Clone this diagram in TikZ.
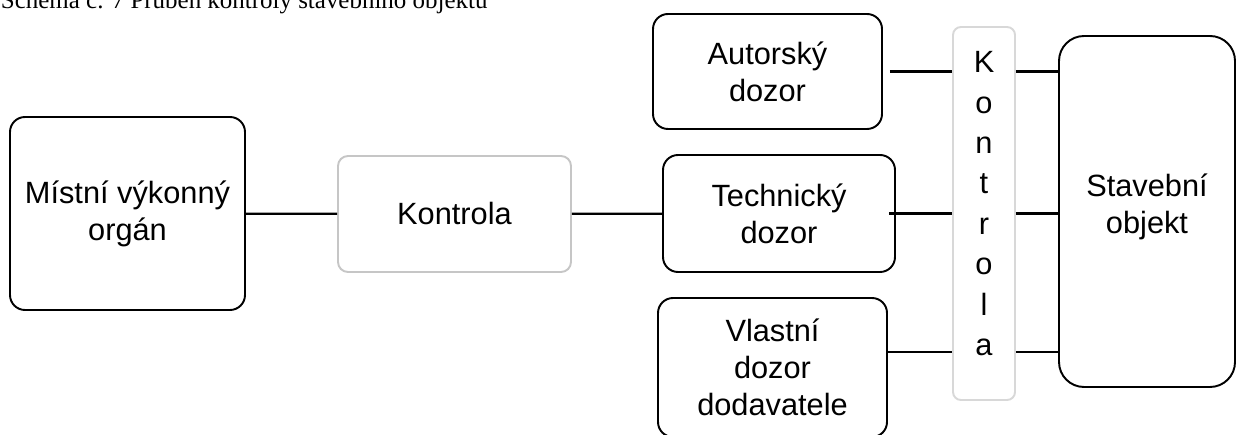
\documentclass[tikz,border=0pt]{standalone}
\usepackage{fontspec}
\setmainfont{Liberation Sans}
\newfontfamily\titlefont{Liberation Serif}
\definecolor{framegray}{RGB}{198,198,198}
\definecolor{palegray}{RGB}{216,216,216}
\tikzset{%
    every node/.style={draw, rounded corners=3mm, line width=1.1pt, align=center,
    	inner sep=0pt, font=\fontsize{17.5pt}{21pt}\selectfont},
    every edge/.style={draw, line width=1.3pt}
}

\begin{document}
\begin{tikzpicture}[line width=1.1pt]
  \useasboundingbox (0cm, 0cm) rectangle (24.72cm, -8.7cm);

  \node (title) [draw=none, anchor=base west,
    font=\titlefont\fontsize{14.2pt}{17pt}\selectfont] at (0cm, -0.17cm)
    {Schéma č. 7 Průběh kontroly stavebního objektu};

  \node (mistni) [minimum width=4.7cm, minimum height=3.86cm] at (2.55cm, -4.27cm) {Místní výkonný\\orgán};
  \node (kontrola) [draw=framegray, rounded corners=2mm, minimum width=4.66cm, minimum height=2.32cm] at (9.09cm, -4.28cm) {Kontrola};
  \node (autor) [minimum width=4.58cm, minimum height=2.3cm] at (15.35cm, -1.43cm) {Autorský\\dozor};
  \node (tech) [minimum width=4.64cm, minimum height=2.34cm] at (15.58cm, -4.27cm) {Technický\\dozor};
  \node (vlastni) [minimum width=4.58cm, minimum height=2.78cm] at (15.45cm, -7.35cm) {Vlastní\\dozor\\dodavatele};
  \node (kvert) [draw=palegray, rounded corners=1.6mm, minimum width=1.24cm, minimum height=7.46cm,
    text depth=0.4cm, font=\fontsize{17.5pt}{23pt}\selectfont] at (19.68cm, -4.27cm) {K\\o\\n\\t\\r\\o\\l\\a};
  \node (stavba) [rounded corners=5mm, minimum width=3.52cm, minimum height=7.02cm,
    text depth=0.32cm] at (22.94cm, -4.23cm) {Stavební\\objekt};

  \coordinate (vl) at ([yshift=3.1mm]vlastni.east);

  \draw (mistni) edge (kontrola);
  \draw (kontrola) edge (tech);

  \draw ([xshift=1.4mm]autor.east) edge (autor.east -| kvert.west);
  \draw ([xshift=-1.4mm]tech.east) edge (tech.east -| kvert.west);
  \draw (vl) edge (vl -| kvert.west);

  \draw (autor.east -| kvert.east) edge (autor.east -| stavba.west);
  \draw (tech.east -| kvert.east) edge (tech.east -| stavba.west);
  \draw (vl -| kvert.east) edge (vl -| stavba.west);
\end{tikzpicture}
\end{document}
